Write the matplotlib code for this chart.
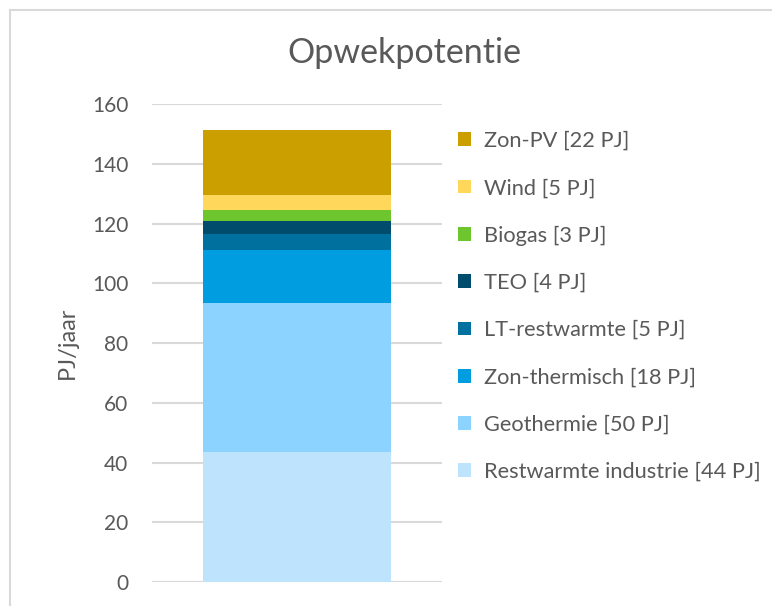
import matplotlib.pyplot as plt
from matplotlib.patches import Patch, Rectangle

# stack from bottom to top
labels = ['Restwarmte industrie [44 PJ]', 'Geothermie [50 PJ]', 'Zon-thermisch [18 PJ]',
          'LT-restwarmte [5 PJ]', 'TEO [4 PJ]', 'Biogas [3 PJ]', 'Wind [5 PJ]', 'Zon-PV [22 PJ]']
values = [43.6, 49.9, 17.7, 5.3, 4.5, 3.5, 5.0, 22.0]
colors = ['#BDE4FC', '#8CD3FF', '#009EE0', '#00719F', '#004C6D', '#6DC62E', '#FFD75A', '#CC9F00']
yticks = [0, 20, 40, 60, 80, 100, 120, 140, 160]

plt.rcParams['font.family'] = ['Lato', 'DejaVu Sans']
txt = '#595959'

fig = plt.figure(figsize=(7.72, 6.06), dpi=100)
fig.patches.append(Rectangle((10 / 772, -0.1), 1.2, 1 - 10 / 606 + 0.1, transform=fig.transFigure,
                             fill=False, edgecolor='#D9D9D9', lw=1.5))
ax = fig.add_axes([152 / 772, 1 - 582 / 606, 290 / 772, 477.7 / 606])

bottom = 0
for v, c in zip(values, colors):
    ax.bar(0, v, width=0.645, bottom=bottom, color=c, zorder=3)
    bottom += v

ax.set_xlim(-0.5, 0.5)
ax.set_ylim(0, 160)
ax.set_yticks(yticks)
ax.set_xticks([])
ax.grid(axis='y', color='#D9D9D9', lw=1.5, zorder=0)
for s in ax.spines.values():
    s.set_visible(False)
ax.tick_params(axis='y', length=0, pad=17, labelsize=15, labelcolor=txt)
ax.set_ylabel('PJ/jaar', fontsize=17, color=txt, labelpad=10)

fig.text(404 / 772, 1 - 53 / 606, 'Opwekpotentie', ha='center', va='center', fontsize=24.5, color=txt)

handles = [Patch(facecolor=c, label=l) for l, c in zip(labels, colors)][::-1]
leg = ax.legend(handles=handles, loc='upper left', bbox_to_anchor=(458 / 772, 1 - 131 / 606),
                bbox_transform=fig.transFigure, frameon=False, fontsize=15.7,
                handlelength=0.6, handleheight=0.6, handletextpad=0.6, labelspacing=1.25,
                borderaxespad=0, borderpad=0)
for t in leg.get_texts():
    t.set_color(txt)

fig.savefig('out.png', dpi=100)
